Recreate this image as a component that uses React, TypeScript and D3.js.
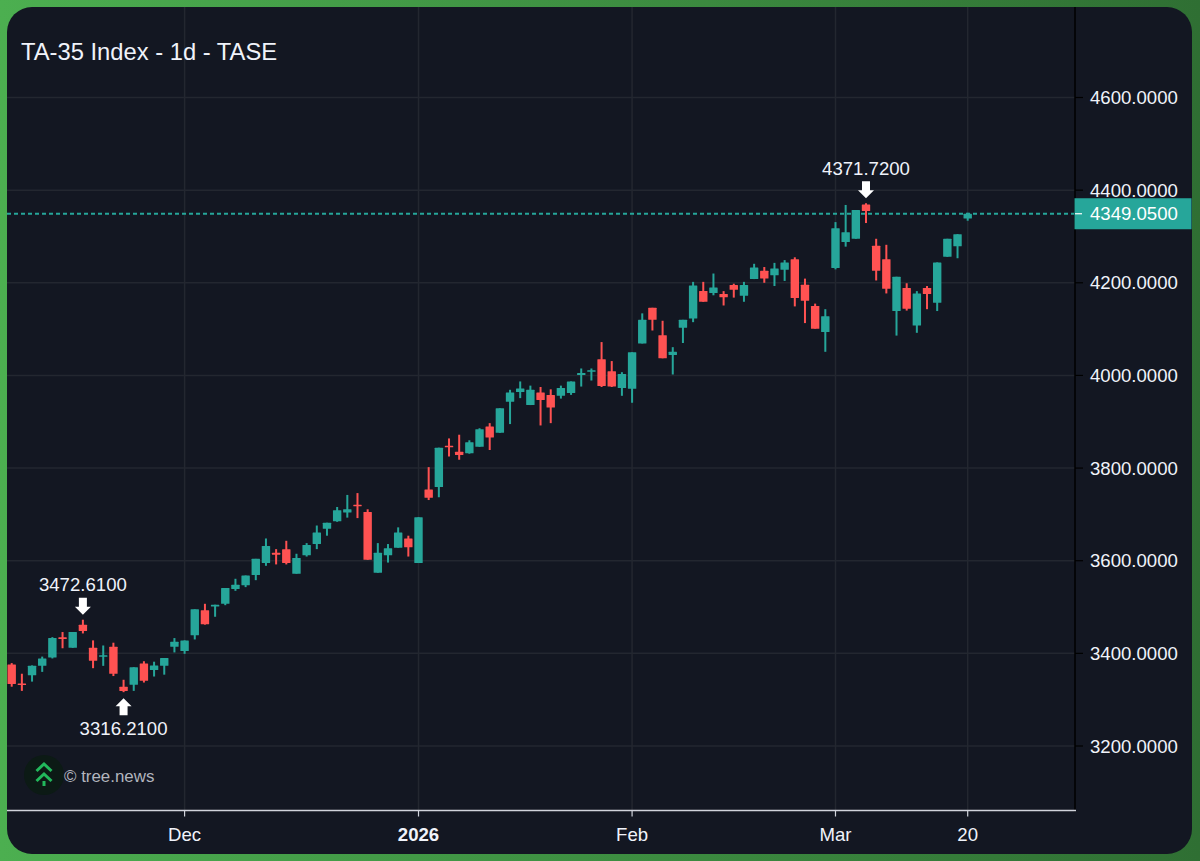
import React from 'react';
import * as d3 from 'd3';

const opens = [3376,3335,3353,3373,3391,3435,3412,3462,3412,3394,3414,3328,3332,3378,3364,3373,3414,3405,3439,3493,3501,3507,3539,3547,3569,3595,3617,3625,3572,3612,3636,3669,3685,3704,3721,3705,3574,3612,3628,3648,3595,3754,3759,3848,3835,3832,3846,3890,3876,3943,3964,3936,3963,3958,3956,3962,4001,4009,4035,4009,3973,3971,4069,4146,4087,4044,4103,4123,4182,4178,4176,4195,4172,4208,4226,4216,4228,4251,4196,4150,4094,4232,4288,4295,4369,4280,4251,4139,4189,4108,4189,4157,4256,4279,4339];
const highs = [3379,3356,3374,3393,3435,3446,3446,3472.61,3428,3417,3423,3343,3370,3383,3382,3390,3433,3428,3495,3507,3505,3541,3561,3568,3604,3648,3625,3643,3615,3638,3676,3682,3716,3742,3746,3711,3638,3636,3672,3654,3694,3802,3844,3864,3872,3860,3886,3897,3929,3969,3987,3978,3975,3970,3978,3987,4015,4015,4072,4031,4007,4050,4134,4146,4118,4061,4120,4202,4202,4220,4182,4198,4202,4241,4234,4243,4249,4255,4209,4155,4143,4331,4368,4357,4371.72,4295,4282,4213,4199,4182,4193,4244,4295,4305,4351];
const lows = [3328,3319,3339,3360,3389,3411,3412,3443,3368,3373,3351,3316.21,3319,3337,3350,3354,3402,3399,3430,3462,3479,3504,3535,3543,3558,3589,3592,3592,3572,3609,3625,3654,3684,3693,3692,3602,3574,3596,3628,3609,3595,3731,3737,3825,3818,3831,3846,3839,3876,3895,3951,3936,3892,3897,3950,3958,3976,3989,3975,3975,3956,3941,4069,4097,4037,4002,4070,4115,4159,4173,4151,4168,4159,4208,4200,4193,4204,4149,4113,4101,4051,4229,4278,4295,4329,4205,4177,4086,4140,4092,4143,4139,4256,4253,4334];
const closes = [3334,3332,3373,3389,3433,3431,3446,3448,3384,3396,3356,3319,3370,3341,3374,3390,3425,3428,3495,3463,3505,3541,3548,3568,3604,3632,3613,3595,3606,3634,3661,3682,3709,3711,3718,3602,3617,3627,3661,3629,3694,3736,3844,3846,3828,3856,3884,3866,3929,3963,3972,3969,3947,3931,3973,3987,4005,4011,3977,3976,4003,4050,4120,4120,4037,4051,4120,4194,4159,4190,4169,4185,4195,4233,4209,4231,4244,4167,4161,4101,4128,4318,4309,4357,4355,4226,4187,4213,4144,4177,4176,4244,4295,4305,4349.05];

const priceTicks = [3200, 3400, 3600, 3800, 4000, 4200, 4400, 4600];
const timeTickIndex = [17, 40, 61, 81, 94];
const timeTickLabels = ['Dec', '2026', 'Feb', 'Mar', '20'];
const highMarks = [7, 84];
const lowMarks = [11];
const lastPrice = 4349.05;
const title = 'TA-35 Index - 1d - TASE';

const width = 1200;
const height = 861;
const up = '#26a69a';
const down = '#ff5252';
const gridColor = '#232730';
const font = '"Liberation Sans", Arial, sans-serif';
const labelSize = 18.6;

const x = d3.scaleLinear().domain([0, 94]).range([11.7, 967.7]);
const y = d3.scaleLinear().domain([3200, 4600]).range([746, 97.5]);

const plotLeft = 7;
const plotRight = 1075;
const plotBottom = 810.5;
const cardTop = 7;

const App: React.FC = () => {
  return (
    <svg
      width={width}
      height={height}
      style={{ position: 'absolute', left: 0, top: 0, display: 'block' }}
      fontFamily={font}
    >
      <defs>
        <linearGradient id="frame" x1="0" y1="0.5" x2="1" y2="0.5">
          <stop offset="0" stopColor="#4caf50" />
          <stop offset="1" stopColor="#2f6f33" />
        </linearGradient>
      </defs>
      <rect width={width} height={height} fill="url(#frame)" />
      <rect x={plotLeft} y={cardTop} width={1185} height={847} rx={25} fill="#131722" />

      {/* grid */}
      {priceTicks.map(t => (
        <line key={t} x1={plotLeft} x2={plotRight} y1={y(t)} y2={y(t)} stroke={gridColor} strokeWidth={1.5} />
      ))}
      {timeTickIndex.map(i => (
        <line key={i} x1={x(i)} x2={x(i)} y1={cardTop} y2={plotBottom} stroke={gridColor} strokeWidth={1.5} />
      ))}

      {/* last price line */}
      <line x1={plotLeft} x2={plotRight} y1={y(lastPrice)} y2={y(lastPrice)} stroke={up} strokeWidth={1.8} strokeDasharray="4 3" />

      {/* candles */}
      {opens.map((o, i) => {
        const c = closes[i];
        const color = c >= o ? up : down;
        const top = y(Math.max(o, c));
        const bottom = y(Math.min(o, c));
        return (
          <g key={i} fill={color} stroke="none">
            <rect x={x(i) - 1} width={2} y={y(highs[i])} height={y(lows[i]) - y(highs[i])} />
            <rect x={x(i) - 4.2} width={8.4} y={top} height={Math.max(bottom - top, 1.5)} rx={0.5} />
          </g>
        );
      })}

      {/* high and low marks */}
      {highMarks.map(i => (
        <g key={i} transform={`translate(${x(i)},${y(highs[i])})`}>
          <path d="M0,-5 L-8,-13 L-4,-13 L-4,-22 L4,-22 L4,-13 L8,-13 Z" fill="#fff" />
          <text y={-28.5} textAnchor="middle" fontSize={labelSize} fill="#f0f3fa">{highs[i].toFixed(4)}</text>
        </g>
      ))}
      {lowMarks.map(i => (
        <g key={i} transform={`translate(${x(i)},${y(lows[i])})`}>
          <path d="M0,6 L-8,14 L-4,14 L-4,23 L4,23 L4,14 L8,14 Z" fill="#fff" />
          <text y={43} textAnchor="middle" fontSize={labelSize} fill="#f0f3fa">{lows[i].toFixed(4)}</text>
        </g>
      ))}

      {/* axes */}
      <line x1={plotRight} x2={plotRight} y1={cardTop} y2={plotBottom + 1} stroke="#000" strokeWidth={1.5} />
      <line x1={plotLeft} x2={plotRight + 1} y1={plotBottom} y2={plotBottom} stroke="#d1d4dc" strokeWidth={1.6} />
      {priceTicks.map(t => (
        <g key={t}>
          <line x1={plotRight} x2={plotRight + 8} y1={y(t)} y2={y(t)} stroke="#000" strokeWidth={1.2} />
          <text x={1090} y={y(t) + 6.5} fontSize={labelSize} fill="#f0f3fa">{t.toFixed(4)}</text>
        </g>
      ))}
      {timeTickIndex.map((i, k) => (
        <g key={i}>
          <line x1={x(i)} x2={x(i)} y1={plotBottom} y2={plotBottom + 6} stroke="#d1d4dc" strokeWidth={1.2} />
          <text
            x={x(i)}
            y={841}
            textAnchor="middle"
            fontSize={labelSize}
            fontWeight={timeTickLabels[k] === '2026' ? 'bold' : 'normal'}
            fill="#f0f3fa"
          >
            {timeTickLabels[k]}
          </text>
        </g>
      ))}

      {/* last price tag */}
      <rect x={1074.5} y={y(lastPrice) - 15.5} width={117} height={31} fill={up} />
      <line x1={1075} x2={1082} y1={y(lastPrice)} y2={y(lastPrice)} stroke="#fff" strokeWidth={1.2} />
      <text x={1090} y={y(lastPrice) + 6.5} fontSize={labelSize} fill="#fff">{lastPrice.toFixed(4)}</text>

      {/* title */}
      <text x={21} y={60} fontSize={23.75} fill="#f0f3fa">{title}</text>

      {/* watermark */}
      <circle cx={44} cy={775} r={20} fill="#0c1a15" />
      <g fill="none" stroke="#22b85c" strokeWidth={3}>
        <path d="M36.5,771 L44,764 L51.5,771" />
        <path d="M36.5,781 L44,774 L51.5,781" />
      </g>
      <rect x={42.5} y={781} width={3} height={5} fill="#22b85c" />
      <text x={64} y={781.5} fontSize={16.9} fill="#b2b5be">© tree.news</text>
    </svg>
  );
};

export default App;
